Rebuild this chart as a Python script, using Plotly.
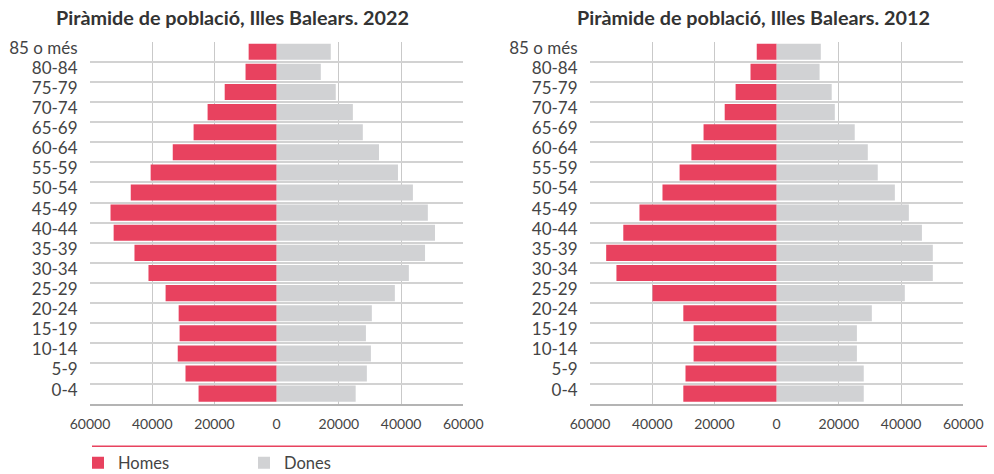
import plotly.graph_objects as go

W, H = 994, 474

age_groups = ["0-4", "5-9", "10-14", "15-19", "20-24", "25-29", "30-34", "35-39",
              "40-44", "45-49", "50-54", "55-59", "60-64", "65-69", "70-74",
              "75-79", "80-84", "85 o més"]

homes_2022 = [25100, 29300, 31800, 31200, 31500, 35700, 41200, 45700,
              52400, 53400, 46900, 40500, 33400, 26700, 22200, 16700, 10000, 9000]
dones_2022 = [25400, 29000, 30300, 28700, 30600, 38000, 42500, 47700,
              50900, 48600, 43800, 39000, 32900, 27700, 24500, 19000, 14200, 17400]

homes_2012 = [30000, 29300, 26700, 26700, 30000, 39900, 51500, 54800,
              49300, 44100, 36700, 31200, 27400, 23500, 16700, 13200, 8400, 6400]
dones_2012 = [28000, 28000, 25800, 25800, 30600, 41200, 50200, 50200,
              46700, 42500, 38000, 32500, 29300, 25100, 18700, 17700, 13800, 14200]

titles = ["Piràmide de població, Illes Balears. 2022",
          "Piràmide de població, Illes Balears. 2012"]
x_ticks = [-60000, -40000, -20000, 0, 20000, 40000, 60000]
x_ticktext = [str(abs(v)) for v in x_ticks]

RED = "#e8425f"
GRAY = "#d1d2d4"
FONT = "Lato"
TXT = "#444444"

ypos = list(range(len(age_groups)))

fig = go.Figure()

panels = [(homes_2022, dones_2022, "x", "y", True),
          (homes_2012, dones_2012, "x2", "y2", False)]
for homes, dones, xa, ya, show in panels:
    fig.add_trace(go.Bar(y=ypos, x=[-v for v in homes], orientation="h",
                         marker=dict(color=RED, line=dict(width=0)), width=0.8,
                         name="Homes", showlegend=show, xaxis=xa, yaxis=ya,
                         customdata=homes,
                         hovertemplate="%{customdata}<extra>Homes</extra>"))
    fig.add_trace(go.Bar(y=ypos, x=dones, orientation="h",
                         marker=dict(color=GRAY, line=dict(width=0)), width=0.8,
                         name="Dones", showlegend=show, xaxis=xa, yaxis=ya,
                         hovertemplate="%{x}<extra>Dones</extra>"))

y_dom = [1 - 403.7 / H, 1 - 41.7 / H]
x_doms = [[90 / W, 463.3 / W], [590 / W, 963.3 / W]]

def xaxis_cfg(dom, anchor):
    return dict(domain=dom, anchor=anchor, range=[-60000, 60000], automargin=False,
                tickvals=x_ticks, ticktext=x_ticktext, showgrid=False,
                zeroline=False, showline=True, linecolor="#b4b4b4", linewidth=2,
                ticks="outside", ticklen=6, tickcolor="rgba(0,0,0,0)",
                tickfont=dict(family=FONT, size=14, color=TXT),
                minor=dict(tickvals=[-40000, -20000, 20000, 40000], showgrid=True,
                           gridcolor="#c9c9c9", gridwidth=1, ticks=""),
                fixedrange=True)

def yaxis_cfg(anchor):
    return dict(domain=y_dom, anchor=anchor, range=[-0.5, len(age_groups) - 0.5],
                automargin=False,
                tickvals=ypos, ticktext=age_groups, showgrid=False, zeroline=False,
                ticks="outside", ticklen=8, tickcolor="rgba(0,0,0,0)",
                ticklabelshift=-4,
                tickfont=dict(family=FONT, size=17, color=TXT),
                minor=dict(tickvals=[i - 0.5 for i in range(len(age_groups) + 1)],
                           showgrid=True, gridcolor="#d2d2d2", gridwidth=2, ticks=""),
                fixedrange=True)

fig.update_layout(
    width=W, height=H,
    margin=dict(l=0, r=0, t=0, b=0, autoexpand=False),
    paper_bgcolor="white", plot_bgcolor="white",
    barmode="overlay", bargap=0.2,
    font=dict(family=FONT, color=TXT),
    xaxis=xaxis_cfg(x_doms[0], "y"),
    yaxis=yaxis_cfg("x"),
    xaxis2=xaxis_cfg(x_doms[1], "y2"),
    yaxis2=yaxis_cfg("x2"),
    legend=dict(orientation="h", x=78 / W, y=1 - 463 / H, xanchor="left", yanchor="middle",
                font=dict(family=FONT, size=16.5, color=TXT),
                entrywidth=121, entrywidthmode="pixels", itemclick=False,
                bgcolor="rgba(0,0,0,0)", tracegroupgap=0),
    annotations=[
        dict(text="<b>" + titles[0] + "</b>", x=232 / W, y=1 - 17 / H, xref="paper", yref="paper",
             xanchor="center", yanchor="middle", showarrow=False,
             font=dict(family=FONT, size=19.8, color="#333333")),
        dict(text="<b>" + titles[1] + "</b>", x=753 / W, y=1 - 17 / H, xref="paper", yref="paper",
             xanchor="center", yanchor="middle", showarrow=False,
             font=dict(family=FONT, size=19.8, color="#333333")),
    ],
    shapes=[dict(type="line", xref="paper", yref="paper", x0=92 / W, x1=987 / W,
                 y0=1 - 446.3 / H, y1=1 - 446.3 / H, line=dict(color=RED, width=1.5))],
)

fig.write_html("out.html", config={"displayModeBar": False},
               post_script="document.body.style.margin='0';")
